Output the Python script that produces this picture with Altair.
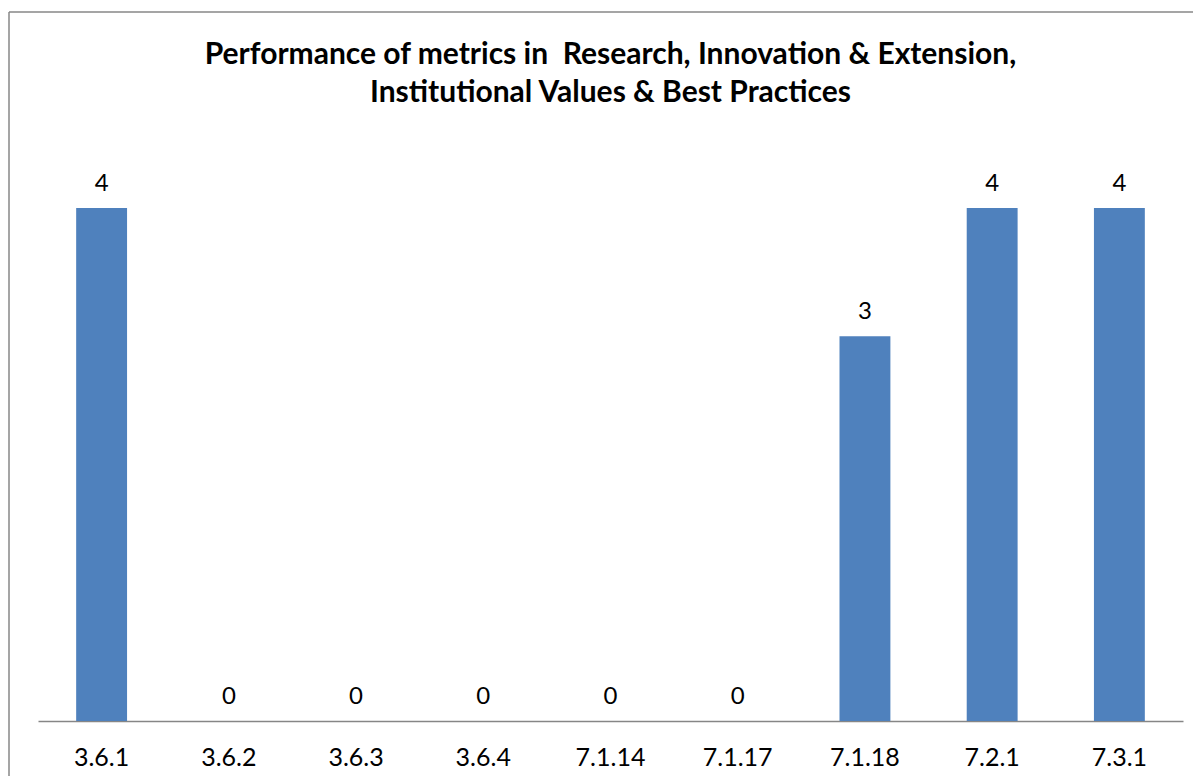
import altair as alt
import pandas as pd

categories = ["3.6.1", "3.6.2", "3.6.3", "3.6.4", "7.1.14", "7.1.17", "7.1.18", "7.2.1", "7.3.1"]
values = [4, 0, 0, 0, 0, 0, 3, 4, 4]
title_lines = [
    "Performance of metrics in \u00a0Research, Innovation & Extension,",
    "Institutional Values & Best Practices",
]

df = pd.DataFrame({"metric": categories, "value": values})
FONT = "Lato"

x_enc = alt.X(
    "metric:N",
    sort=categories,
    scale=alt.Scale(paddingInner=0.6, paddingOuter=0.3),
    axis=alt.Axis(
        title=None,
        labelAngle=0,
        ticks=False,
        tickSize=0,
        labelPadding=44,
        labelBaseline="alphabetic",
        labelFont=FONT,
        labelFontSize=25,
        labelColor="black",
        domainColor="#868686",
        domainWidth=1.5,
        grid=False,
    ),
)
y_enc = alt.Y("value:Q", scale=alt.Scale(domain=[0, 4.5], nice=False), axis=None)

bars = alt.Chart(df).mark_bar(color="#4F81BD").encode(x=x_enc, y=y_enc)
labels = alt.Chart(df).mark_text(
    font=FONT, fontSize=24, color="black", dy=-17, baseline="alphabetic"
).encode(x=x_enc, y=y_enc, text="value:Q")

one = pd.DataFrame({"a": [0]})
frame_left = alt.Chart(one).mark_rule(stroke="#878787", strokeWidth=1.5).encode(
    x=alt.value(-29), y=alt.value(-132), y2=alt.value(900)
)
frame_top = alt.Chart(one).mark_rule(stroke="#878787", strokeWidth=1.5).encode(
    y=alt.value(-132), x=alt.value(-29), x2=alt.value(1400)
)

chart = alt.layer(frame_left, frame_top, bars, labels).properties(
    width=1145,
    height=577,
    padding={"left": 30, "top": 136, "right": 10, "bottom": 55},
    autosize=alt.AutoSizeParams(type="none"),
    title=alt.TitleParams(
        title_lines,
        font=FONT,
        fontSize=30,
        fontWeight="bold",
        color="black",
        anchor="middle",
        frame="group",
        offset=-97,
        lineHeight=38,
        zindex=1,
    ),
).configure(background="white").configure_view(stroke=None)

chart.save("out.html", embed_options={"renderer": "svg", "actions": False})
